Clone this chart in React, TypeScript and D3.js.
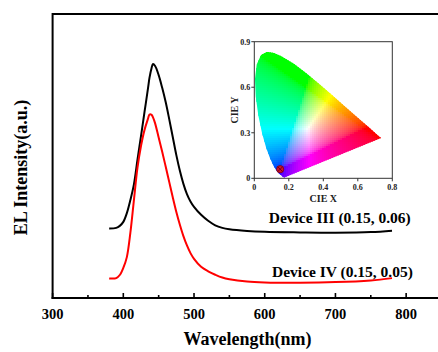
import React from "react";
import * as d3 from "d3";

// ---- Main EL spectra data ----
const wavelengths = [380, 390, 395, 400, 405, 410, 415, 420, 425, 430, 435, 437, 440, 442, 445, 450, 455, 460, 465, 470, 475, 480, 485, 490, 495, 500, 510, 520, 530, 540, 550, 575, 600, 650, 700, 750, 780];
const deviceIII = [24.5, 24.7, 25.4, 26.8, 29.9, 34.5, 40.0, 48.6, 57.0, 65.5, 74.0, 77.5, 81.0, 82.4, 81.7, 78.5, 74.0, 68.9, 62.9, 56.6, 50.3, 44.8, 40.2, 36.6, 34.0, 32.1, 29.3, 27.2, 25.6, 24.7, 24.2, 23.6, 23.3, 23.1, 23.0, 23.2, 23.7];
const deviceIV = [6.9, 7.0, 8.1, 10.6, 14.4, 23.0, 34.5, 45.8, 53.5, 59.2, 63.2, 64.6, 64.5, 63.6, 61.5, 56.5, 51.5, 46.2, 40.8, 35.4, 30.3, 25.8, 21.8, 18.5, 15.8, 13.8, 11.0, 9.4, 8.2, 7.2, 6.6, 5.8, 5.5, 5.4, 5.6, 6.2, 7.0];
const seriesLabels = ["Device III (0.15, 0.06)", "Device IV (0.15, 0.05)"];
const xMajorTicks = [300, 400, 500, 600, 700, 800];
const xMinorTicks = [350, 450, 550, 650, 750, 850];

// ---- CIE inset data ----
const locusX = [0.1741, 0.1733, 0.1714, 0.1644, 0.1566, 0.144, 0.1241, 0.1096, 0.0913, 0.0687, 0.0454, 0.0235, 0.0082, 0.0039, 0.0139, 0.0389, 0.0743, 0.1142, 0.1547, 0.2296, 0.3016, 0.3731, 0.4441, 0.5125, 0.5752, 0.627, 0.6658, 0.6915, 0.719, 0.73, 0.7347];
const locusY = [0.005, 0.0048, 0.0051, 0.0109, 0.0177, 0.0297, 0.0578, 0.0868, 0.1327, 0.2007, 0.295, 0.4127, 0.5384, 0.6548, 0.7502, 0.812, 0.8338, 0.8262, 0.8059, 0.7543, 0.6923, 0.6245, 0.5547, 0.4866, 0.4242, 0.3725, 0.334, 0.3083, 0.2809, 0.27, 0.2653];
const cieXTicks = [0, 0.2, 0.4, 0.6, 0.8];
const cieYTicks = [0, 0.3, 0.6, 0.9];
const cieXTickLabels = ["0", "0.2", "0.4", "0.6", "0.8"];
const cieYTickLabels = ["0", "0.3", "0.6", "0.9"];
const devicePoint = [0.15, 0.06];

const FONT = "'Liberation Serif', 'Times New Roman', serif";

function xyToRGB(x: number, y: number): string {
  const Y = 1;
  const X = (x / y) * Y;
  const Z = ((1 - x - y) / y) * Y;
  let r = 3.2406 * X - 1.5372 * Y - 0.4986 * Z;
  let g = -0.9689 * X + 1.8758 * Y + 0.0415 * Z;
  let b = 0.0557 * X - 0.204 * Y + 1.057 * Z;
  r = Math.max(0, r); g = Math.max(0, g); b = Math.max(0, b);
  const m = Math.max(r, g, b) || 1;
  const gam = (c: number) => (c <= 0.0031308 ? 12.92 * c : 1.055 * Math.pow(c, 1 / 2.4) - 0.055);
  const to = (c: number) => Math.round(255 * Math.min(1, gam(c / m)));
  return `rgb(${to(r)},${to(g)},${to(b)})`;
}

export default function App() {
  const W = 438, H = 352;
  const x = d3.scaleLinear().domain([300, 850]).range([52.6, 441.5]);
  const y = d3.scaleLinear().domain([0, 100]).range([298, 14]);

  const line = d3
    .line<number>()
    .x((_, i) => x(wavelengths[i]))
    .y((d) => y(d))
    .curve(d3.curveCatmullRom.alpha(0.5));

  // inset scales
  const cx = d3.scaleLinear().domain([0, 0.8]).range([254.3, 392.3]);
  const cy = d3.scaleLinear().domain([0, 0.9]).range([178.3, 41.7]);

  const locusPts: [number, number][] = locusX.map((v, i) => [cx(v), cy(locusY[i])]);
  const locusPath = "M" + locusPts.map((p) => p.join(",")).join("L") + "Z";

  const cells: { px: number; py: number; c: string }[] = [];
  const step = 2;
  const [gx0, gx1] = cx.range();
  const [gy1, gy0] = cy.range();
  for (let px = gx0; px < gx1; px += step) {
    for (let py = gy0; py < gy1; py += step) {
      const xv = cx.invert(px + step / 2);
      const yv = cy.invert(py + step / 2);
      if (yv <= 0.002 || xv < 0) continue;
      if (!d3.polygonContains(locusPts, [px + step / 2, py + step / 2]) &&
          !d3.polygonContains(locusPts, [px, py]) &&
          !d3.polygonContains(locusPts, [px + step, py + step]) &&
          !d3.polygonContains(locusPts, [px + step, py]) &&
          !d3.polygonContains(locusPts, [px, py + step])) continue;
      const xc = Math.max(0.001, xv), yc = Math.max(0.004, yv);
      cells.push({ px, py, c: xyToRGB(xc, yc) });
    }
  }

  const mX = cx(devicePoint[0]), mY = cy(devicePoint[1]);

  return (
    <svg width={W} height={H} style={{ position: "absolute", left: 0, top: 0, background: "#fff" }} fontFamily={FONT}>
      <defs>
        <clipPath id="locusClip">
          <path d={locusPath} />
        </clipPath>
      </defs>

      {/* main frame */}
      <line x1={x(300)} x2={x(850)} y1={y(100)} y2={y(100)} stroke="#000" strokeWidth={2} />
      <line x1={x(300)} x2={x(300)} y1={y(100) - 1} y2={y(0) + 1} stroke="#000" strokeWidth={2} />
      <line x1={x(300) - 1} x2={x(850)} y1={y(0)} y2={y(0)} stroke="#000" strokeWidth={2} />
      {xMajorTicks.map((t) => (
        <line key={"M" + t} x1={x(t)} x2={x(t)} y1={y(0)} y2={y(0) - 5} stroke="#000" strokeWidth={1.6} />
      ))}
      {xMinorTicks.map((t) => (
        <line key={"m" + t} x1={x(t)} x2={x(t)} y1={y(0)} y2={y(0) - 3} stroke="#000" strokeWidth={1.6} />
      ))}
      {xMajorTicks.map((t) => (
        <text key={"L" + t} x={x(t)} y={319} textAnchor="middle" fontSize={14.5} fontWeight="bold">{t}</text>
      ))}
      <text x={247.5} y={345} textAnchor="middle" fontSize={18} fontWeight="bold">Wavelength(nm)</text>
      <text transform="translate(27,167.5) rotate(-90)" textAnchor="middle" fontSize={18} fontWeight="bold">EL Intensity(a.u.)</text>

      {/* spectra */}
      <path d={line(deviceIII) || ""} fill="none" stroke="#000" strokeWidth={2} />
      <path d={line(deviceIV) || ""} fill="none" stroke="#ff0000" strokeWidth={2} />
      <text x={268.7} y={223} fontSize={15.5} fontWeight="bold">{seriesLabels[0]}</text>
      <text x={272} y={277} fontSize={15.5} fontWeight="bold">{seriesLabels[1]}</text>

      {/* CIE inset */}
      <g clipPath="url(#locusClip)" shapeRendering="crispEdges">
        {cells.map((d, i) => (
          <rect key={i} x={d.px} y={d.py} width={step + 0.3} height={step + 0.3} fill={d.c} />
        ))}
      </g>
      <rect x={gx0} y={gy0} width={gx1 - gx0} height={gy1 - gy0} fill="none" stroke="#333" strokeWidth={1} />
      {cieXTicks.map((t, i) => (
        <g key={"cx" + t}>
          <line x1={cx(t)} x2={cx(t)} y1={gy1} y2={gy1 + 3} stroke="#333" strokeWidth={1} />
          <text x={cx(t)} y={190} textAnchor="middle" fontSize={8} fontWeight="bold" fill="#222">{cieXTickLabels[i]}</text>
        </g>
      ))}
      {cieYTicks.map((t, i) => (
        <g key={"cy" + t}>
          <line x1={gx0 - 3} x2={gx0} y1={cy(t)} y2={cy(t)} stroke="#333" strokeWidth={1} />
          <text x={gx0 - 4} y={cy(t) + 3} textAnchor="end" fontSize={8} fontWeight="bold" fill="#222">{cieYTickLabels[i]}</text>
        </g>
      ))}
      <text x={(gx0 + gx1) / 2} y={202} textAnchor="middle" fontSize={10} fontWeight="bold" fill="#222">CIE X</text>
      <text transform={`translate(238,${(gy0 + gy1) / 2}) rotate(-90)`} textAnchor="middle" fontSize={10} fontWeight="bold" fill="#222">CIE Y</text>

      {/* device marker */}
      <circle cx={mX} cy={mY} r={3.6} fill="#d0102a" stroke="#7a0010" strokeWidth={0.8} />
      <line x1={mX - 2.4} x2={mX + 2.4} y1={mY - 2.4} y2={mY + 2.4} stroke="#5a0010" strokeWidth={0.8} />
      <line x1={mX - 2.4} x2={mX + 2.4} y1={mY + 2.4} y2={mY - 2.4} stroke="#5a0010" strokeWidth={0.8} />
    </svg>
  );
}
